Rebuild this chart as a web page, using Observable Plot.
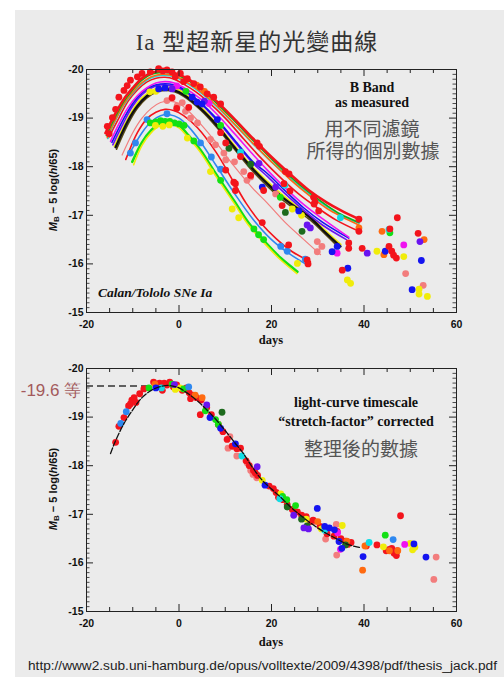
<!DOCTYPE html>
<html><head><meta charset="utf-8">
<script src="https://cdn.jsdelivr.net/npm/d3@7"></script>
<script src="https://cdn.jsdelivr.net/npm/@observablehq/plot@0.6"></script>
<style>
body{margin:0;background:#fff;width:504px;height:677px;overflow:hidden;position:relative;font-family:"Liberation Sans",Arial,sans-serif;}
#panel{position:absolute;left:15px;top:10px;width:489px;height:667px;background:#ebebeb;}
.abs{position:absolute;white-space:nowrap;line-height:1;}
.ctr{transform:translate(-50%,-50%);}
.serifb{font-family:"Liberation Serif","Times New Roman",serif;font-weight:bold;color:#111;}
.zh{font-family:"Liberation Sans","Noto Sans CJK TC",sans-serif;color:#555;font-size:19px;line-height:1;}
.ylab{font-family:"Liberation Sans",Arial,sans-serif;font-weight:bold;font-size:11px;color:#111;transform:translate(-50%,-50%) rotate(-90deg);}
.ylab sub{font-size:8px;vertical-align:-2px;line-height:0;}
</style></head><body>
<div id="panel"></div>
<div class="abs ctr" id="title" style="left:257px;top:41px;font-size:23px;color:#333;letter-spacing:1px;"><span style="font-family:'Liberation Serif',serif;">Ia </span><span style="font-family:'Noto Sans CJK TC',sans-serif;">型超新星的光變曲線</span></div>
<div id="topPlot" class="abs" style="left:0;top:0;"></div>
<div id="botPlot" class="abs" style="left:0;top:299px;"></div>

<div class="abs ctr serifb" style="left:372px;top:88px;font-size:14px;">B Band</div>
<div class="abs ctr serifb" style="left:372px;top:103px;font-size:14px;">as measured</div>
<div class="abs ctr zh" style="left:372px;top:129px;">用不同濾鏡</div>
<div class="abs ctr zh" style="left:373px;top:151px;">所得的個別數據</div>
<div class="abs serifb" style="left:98px;top:286px;font-size:13.5px;font-style:italic;">Calan/Tololo SNe Ia</div>

<div class="abs ctr serifb" style="left:356px;top:403px;font-size:14px;">light-curve timescale</div>
<div class="abs ctr serifb" style="left:356px;top:422px;font-size:14px;">“stretch-factor” corrected</div>
<div class="abs ctr zh" style="left:361px;top:449px;">整理後的數據</div>
<div class="abs ctr" style="left:51px;top:390px;font-size:17px;color:#a35a5c;">-19.6 等</div>

<div class="abs ylab" style="left:53px;top:190px;"><i>M</i><sub>B</sub> − 5 log(<i>h</i>/65)</div>
<div class="abs ylab" style="left:53px;top:489px;"><i>M</i><sub>B</sub> − 5 log(<i>h</i>/65)</div>
<div class="abs ctr serifb" style="left:271px;top:340px;font-size:12.5px;">days</div>
<div class="abs ctr serifb" style="left:271px;top:642px;font-size:12.5px;">days</div>

<svg class="abs" style="left:0;top:655px;" width="504" height="20"><text x="28" y="15" textLength="469" lengthAdjust="spacingAndGlyphs" font-family="Liberation Sans, Arial, sans-serif" font-size="12.5" fill="#222">http://www2.sub.uni-hamburg.de/opus/volltexte/2009/4398/pdf/thesis_jack.pdf</text></svg>

<script>
// ---------- axes ----------
const xDomain = [-20, 60];
const yDomain = [-20, -15];
const xMajor = [-20, 0, 20, 40, 60];
const xMinor = [-15, -10, -5, 5, 10, 15, 25, 30, 35, 45, 50, 55];
const yMajor = [-20, -19, -18, -17, -16, -15];
const yMinor = d3.range(-199, -150).map(v => v / 10).filter(v => !Number.isInteger(v));

// ---------- top panel: fitted light curves (day, magnitude) ----------
const curveRedTop = [[-15.9,-18.69],[-14,-19.05],[-12,-19.38],[-10,-19.62],[-8,-19.82],[-6,-19.93],[-4,-19.97],[-2,-19.95],[0,-19.9],[2,-19.8],[4.6,-19.63],[8,-19.36],[12,-18.98],[16,-18.58],[20,-18.2],[24,-17.85],[28,-17.52],[32,-17.26],[35,-17.1],[38.9,-16.92]];
const curveGreenTop = [[-15.7,-18.64],[-14,-18.98],[-12,-19.33],[-10,-19.58],[-8,-19.78],[-6,-19.9],[-4,-19.94],[-2,-19.93],[0,-19.87],[2,-19.77],[4.6,-19.6],[8,-19.32],[12,-18.94],[16,-18.54],[20,-18.16],[24,-17.8],[28,-17.48],[32,-17.2],[35,-17.02],[38.9,-16.85]];
const curveOrange = [[-15.5,-18.6],[-14,-18.92],[-12,-19.28],[-10,-19.53],[-8,-19.73],[-6,-19.85],[-4,-19.9],[-2,-19.89],[0,-19.83],[2,-19.72],[4.6,-19.55],[8,-19.27],[12,-18.88],[16,-18.48],[20,-18.1],[24,-17.74],[28,-17.42],[32,-17.14],[35,-16.98],[38.9,-16.8]];
const curveCyan = [[-15.4,-18.58],[-14,-18.9],[-12,-19.26],[-10,-19.51],[-8,-19.71],[-6,-19.83],[-4,-19.88],[-2,-19.87],[0,-19.81],[2,-19.7],[4.6,-19.53],[8,-19.25],[12,-18.87],[16,-18.47],[20,-18.1],[24,-17.76],[28,-17.45],[32,-17.18],[35,-17.0],[38.9,-16.84]];
const curveRedSecond = [[-15.2,-18.6],[-13,-19.0],[-11,-19.35],[-9,-19.58],[-7,-19.74],[-5,-19.82],[-3,-19.84],[-1,-19.8],[1,-19.7],[3.5,-19.55],[6,-19.36],[10,-19.0],[14,-18.57],[18,-18.15],[22,-17.77],[26,-17.43],[30,-17.15],[34,-16.9],[38.9,-16.67]];
const curveMagenta = [[-14.8,-18.52],[-13,-18.88],[-11,-19.22],[-9,-19.46],[-7,-19.62],[-5,-19.72],[-3,-19.75],[-1,-19.72],[1,-19.63],[4.6,-19.4],[8,-19.1],[12,-18.68],[16,-18.25],[19.1,-17.93],[23,-17.56],[27,-17.22],[31,-16.93],[36.7,-16.55]];
const curveBlue = [[-14.5,-18.5],[-12,-18.98],[-10,-19.3],[-8,-19.52],[-6,-19.65],[-4,-19.7],[-2,-19.7],[0,-19.65],[2,-19.52],[4.65,-19.32],[8,-19.0],[12,-18.55],[16,-18.1],[19.1,-17.86],[23,-17.5],[27,-17.15],[31,-16.86],[36.7,-16.53]];
const curvePurple = [[-14.3,-18.45],[-12,-18.9],[-10,-19.25],[-8,-19.48],[-6,-19.62],[-4,-19.68],[-2,-19.67],[0,-19.62],[2,-19.5],[4.65,-19.3],[8,-18.97],[12,-18.52],[16,-18.07],[19.1,-17.8],[23,-17.44],[27,-17.1],[31,-16.8],[36.2,-16.5]];
const curveYellowMid = [[-14,-18.42],[-12,-18.82],[-10,-19.17],[-8,-19.42],[-6,-19.56],[-4,-19.63],[-2,-19.63],[0,-19.58],[2,-19.46],[4.65,-19.24],[8,-18.9],[12,-18.44],[16,-17.99],[19.1,-17.7],[22,-17.45],[25,-17.22],[28.4,-16.98],[31.5,-16.7],[35,-16.4]];
const curveBlack = [[-13.7,-18.4],[-11,-18.95],[-9,-19.25],[-7,-19.45],[-5,-19.57],[-3,-19.6],[-1,-19.57],[1,-19.48],[4.65,-19.2],[8,-18.87],[12,-18.4],[16,-17.95],[19.1,-17.65],[22,-17.4],[25,-17.18],[28.4,-16.95],[31.5,-16.66],[34.9,-16.36]];
const curveOlive = [[-13.5,-18.36],[-11,-18.88],[-9,-19.2],[-7,-19.41],[-5,-19.53],[-3,-19.57],[-1,-19.54],[1,-19.45],[4.65,-19.17],[8,-18.83],[12,-18.36],[16,-17.9],[19.1,-17.6],[22,-17.35],[25,-17.13],[28.4,-16.9],[31.5,-16.62],[34.6,-16.33]];
const curvePink = [[-12.3,-18.24],[-10,-18.7],[-8,-19.0],[-6,-19.2],[-4,-19.32],[-2,-19.35],[0,-19.3],[2,-19.15],[4.65,-18.88],[8,-18.5],[12,-18.0],[16,-17.55],[19.1,-17.25],[23,-16.85],[27,-16.5],[30.6,-16.19]];
const curveRedLow = [[-11.5,-18.15],[-9,-18.7],[-7,-18.98],[-5,-19.12],[-3,-19.18],[-1,-19.15],[1,-19.05],[4,-18.8],[8,-18.3],[11.85,-17.68],[14.5,-17.25],[17.6,-16.85],[21,-16.52],[24.5,-16.25],[28.4,-16.05]];
const curveLightBlue = [[-10.9,-18.24],[-8,-18.7],[-6,-18.93],[-4,-19.05],[-2,-19.07],[0,-19.0],[2,-18.83],[4.6,-18.52],[8,-18.03],[12,-17.45],[16,-16.92],[20,-16.5],[24,-16.2],[27.7,-15.98]];
const curveYellowLow = [[-9.8,-18.04],[-8,-18.44],[-6,-18.7],[-4,-18.85],[-2,-18.88],[0,-18.8],[2,-18.6],[4.6,-18.3],[8,-17.8],[11.9,-17.25],[15,-16.8],[19.1,-16.36],[22,-16.08],[25.5,-15.8]];
const curveGreenLow = [[-10.1,-18.1],[-8,-18.5],[-6,-18.75],[-4,-18.9],[-2,-18.93],[0,-18.85],[2,-18.65],[4.6,-18.35],[8,-17.85],[11.9,-17.3],[15,-16.85],[19.1,-16.4],[22,-16.12],[25.6,-15.84]];

// ---------- top panel: measured points (day, magnitude) by supernova colour ----------
const topRed = [[-15.5,-18.83],[-15.1,-18.68],[-14.4,-19.01],[-13.7,-19.18],[-13.0,-19.43],[-11.9,-19.57],[-11.2,-19.67],[-10.5,-19.78],[-9.0,-19.85],[-8.0,-19.92],[-6.2,-19.95],[-4.4,-20.02],[-3.5,-19.97],[-2.6,-19.99],[-1.5,-19.95],[-0.8,-19.85],[0.3,-19.92],[1.0,-19.75],[1.8,-19.81],[3.2,-19.71],[4.6,-19.64],[6.1,-19.5],[7.5,-19.43],[9.0,-19.29],[16.9,-18.49],[17.4,-18.42],[23.0,-17.9],[23.8,-17.85],[29.1,-17.37],[29.4,-17.28],[38.9,-16.92],
  [-1.5,-19.42],[9.0,-18.7],[10.1,-18.49],[13.3,-18.21],[15.5,-17.82],[22.3,-17.2],[22.7,-17.65],[18.3,-17.51],[29.2,-17.23],[30.2,-17.09],[36.7,-16.43],[36.7,-16.32],[38.9,-16.67],[35.3,-15.87],[24.0,-17.5],[12.2,-17.65],
  [2.1,-19.22],[-0.5,-19.2],[10.1,-17.93],[11.85,-17.68],[12.2,-17.51],[18.0,-16.85],[23.7,-16.39],[27.7,-16.08],[27.9,-16.0],
  [39.6,-16.32],[47.2,-16.95],[45.6,-16.72],[45.4,-16.36],[46.0,-16.26],[47.0,-16.12],[46.4,-16.18],[51.7,-16.63]];
const topPink = [[-2.6,-19.36],[-0.4,-19.25],[0.7,-19.32],[1.4,-19.14],[2.5,-19.0],[4.0,-18.9],[6.8,-18.56],[7.9,-18.45],[9.7,-18.28],[10.1,-18.14],[12.0,-18.1],[14.0,-17.9],[14.7,-17.72],[15.5,-17.79],[20.9,-17.44],[29.9,-16.46],[30.9,-16.36],[29.9,-16.25],[49.0,-15.8],[52.8,-15.56]];
const topOrange = [[3.8,-19.68],[5.5,-19.55],[38.9,-16.74],[43.9,-16.67],[44.3,-16.19],[53.0,-16.5]];
const topBlue = [[-4.4,-19.6],[-3.0,-19.62],[2.85,-19.43],[3.9,-19.33],[5.0,-19.29],[8.3,-18.97],[18.0,-17.58],[25.9,-17.09],[33.1,-16.25],[34.2,-16.36],[36.5,-15.91],[44.6,-16.26],[52.4,-16.07],[50.4,-15.47]];
const topLightBlue = [[-10.5,-18.28],[-9.4,-18.49],[-6.9,-18.97],[-2.6,-19.09],[4.65,-18.49],[7.0,-18.2],[9.0,-17.95],[22.0,-16.36],[23.4,-16.26],[27.3,-16.1]];
const topPurple = [[-1.5,-19.6],[5.5,-19.35],[17.3,-18.07],[20.9,-17.58],[27.7,-16.8],[28.4,-16.74],[40.7,-16.22],[52.1,-16.46]];
const topMagenta = [[-0.5,-19.66],[6.5,-19.3],[34.2,-16.22],[48.6,-16.39]];
const topYellow = [[-6.3,-19.54],[-5.0,-19.55],[24.5,-17.13],[26.5,-17.0],[-5.1,-18.85],[-3.5,-18.83],[-2.1,-18.86],[1.8,-18.59],[6.8,-17.9],[11.5,-17.13],[12.9,-16.95],[25.6,-16.01],[42.8,-16.26],[48.6,-16.15],[36.4,-15.67],[37.1,-15.6],[51.9,-15.48],[51.9,-15.38],[53.7,-15.33]];
const topGreen = [[1.5,-19.55],[9.0,-18.85],[21.9,-17.37],[-6.2,-18.9],[-5.0,-18.92],[-4.0,-18.95],[-3.0,-18.93],[-2.0,-18.93],[-1.0,-18.9],[0.0,-18.88],[1.1,-18.85],[3.2,-18.53],[9.0,-17.72],[16.2,-16.72],[17.2,-16.6],[18.3,-16.5],[45.6,-16.64]];
const topDarkGreen = [[10.8,-18.38],[15.5,-18.05],[23.0,-17.06],[26.6,-16.67]];
const topCyan = [[13.3,-18.3],[22.9,-17.62],[34.9,-16.95],[45.4,-16.71]];

// ---------- bottom panel: stretch-corrected template and points ----------
const templateCurve = [[-14.8,-18.25],[-14,-18.45],[-12,-18.85],[-10,-19.15],[-8,-19.4],[-6,-19.55],[-4,-19.63],[-2,-19.65],[0,-19.6],[2,-19.48],[4,-19.33],[6,-19.15],[8,-18.95],[10,-18.72],[12,-18.48],[14,-18.24],[16,-17.95],[18,-17.7],[20,-17.52],[22,-17.35],[24,-17.16],[26,-17.0],[28,-16.85],[30,-16.72],[32,-16.6],[34,-16.5],[36,-16.4],[38,-16.34],[39,-16.32]];
const peakLevel = -19.64;
const peakLineDays = [-20, -6.8];

const botRed = [[-13.7,-18.48],[-13.0,-18.81],[-11.9,-18.99],[-10.9,-19.23],[-10.5,-19.27],[-10.2,-19.35],[-9.7,-19.4],[-9.3,-19.3],[-8.5,-19.48],[-7.6,-19.58],
  [-5.5,-19.72],[-4.8,-19.68],[-4.2,-19.7],[-3.6,-19.55],[-3.2,-19.7],[-2.6,-19.66],[-2.0,-19.72],[-1.2,-19.62],[-0.5,-19.66],[0.7,-19.55],[1.6,-19.6],[2.2,-19.5],
  [3.0,-19.45],[3.8,-19.4],[4.8,-19.35],[4.6,-19.05],[2.5,-19.38],[6.0,-19.2],[7.0,-19.05],[8.5,-18.85],[9.5,-18.7],[10.4,-18.54],[11.5,-18.4],[12.5,-18.35],[13.3,-18.36],[14.5,-18.1],[15.2,-18.0],[16.1,-17.9],[16.5,-17.85],[17.0,-17.8],[19.5,-17.58],[20.4,-17.53],[21.0,-17.45],[21.5,-17.35],[22.5,-17.3],[23.4,-17.2],[24.5,-17.1],[25.6,-17.05],[26.5,-16.98],[27.5,-16.95],[28.4,-16.85],[29.0,-16.88],[30.5,-16.75],[32.0,-16.6],[33.5,-16.55],[34.2,-16.65],[35.0,-16.5],[36.0,-16.45],[36.5,-16.38],[37.2,-16.42],
  [40.5,-16.35],[42.8,-16.37],[44.8,-16.25],[45.5,-16.28],[46.0,-16.3],[46.5,-16.2],[47.2,-16.25],[47.9,-16.97],[47.0,-16.15]];
const botPink = [[10.6,-18.36],[11.0,-18.6],[12.5,-18.2],[14.8,-18.05],[15.5,-17.9],[16.0,-17.82],[16.8,-17.75],[29.3,-16.85],[31.7,-16.49],[34.0,-16.79],[34.1,-16.16],[55.6,-16.12],[55.1,-15.66]];
const botBlue = [[-5.0,-19.6],[6.7,-18.99],[9.0,-18.77],[12.2,-18.45],[18.6,-17.6],[29.9,-17.12],[31.5,-16.75],[32.5,-16.72],[33.6,-16.68],[34.6,-16.44],[35.2,-16.3],[39.8,-16.13],[50.8,-16.39],[53.4,-16.12]];
const botLightBlue = [[-12.6,-18.87],[-11.4,-19.11],[2.1,-19.62],[46.3,-16.48]];
const botPurple = [[-1.0,-19.67],[6.0,-19.25],[16.9,-17.98],[24.8,-16.98],[27.0,-16.72],[28.0,-16.7]];
const botGreen = [[-6.5,-19.6],[-1.5,-19.68],[1.0,-19.58],[5.7,-19.13],[7.9,-18.95],[8.5,-18.85],[22.4,-17.37],[23.3,-17.3],[25.2,-17.18],[44.6,-16.57]];
const botDarkGreen = [[9.3,-19.1],[23.4,-17.15],[26.5,-16.9],[27.7,-16.76],[36.0,-16.37]];
const botCyan = [[-3.8,-19.6],[13.6,-18.2],[21.8,-17.32],[31.5,-16.67],[41.1,-16.42]];
const botYellow = [[-0.8,-19.57],[0.2,-19.6],[18.0,-17.7],[22.0,-17.42],[27.5,-16.9],[30.8,-16.7],[35.3,-16.77],[44.2,-16.33],[50.0,-16.4],[50.5,-16.27],[51.0,-16.32]];
const botOrange = [[-5.2,-19.68],[3.5,-19.45],[5.0,-19.4],[30.0,-16.85],[36.3,-16.45],[39.7,-15.85],[40.2,-16.35],[45.5,-16.25],[47.3,-16.25]];
const botMagenta = [[34.9,-16.28],[34.3,-16.62],[48.8,-16.38]];

// ---------- styles ----------
const C = {red:"#f3141c", pink:"#f27d7d", orange:"#ff6a10", yellow:"#f0ec0a", green:"#14e014", dgreen:"#1d6a1d", cyan:"#10dce4", blue:"#1414f0", lblue:"#2e88f0", purple:"#6a14f0", magenta:"#f014f0", black:"#111111", olive:"#5a4a14"};

const topCurves = [
  [curveGreenLow, C.green, 2.6], [curveYellowLow, C.yellow, 1.6], [curveLightBlue, C.lblue, 1.6], [curveRedLow, C.red, 1.6], [curvePink, C.pink, 1.2],
  [curveOlive, C.olive, 1.6], [curveYellowMid, C.yellow, 1.6], [curveBlack, C.black, 2.4], [curvePurple, C.purple, 1.6], [curveBlue, C.blue, 1.6], [curveMagenta, C.magenta, 1.6],
  [curveRedSecond, C.red, 1.6], [curveCyan, C.cyan, 1.6], [curveOrange, C.orange, 1.6], [curveGreenTop, "#12b012", 1.6], [curveRedTop, C.red, 2.6]
];
const topDotSets = [[topPink,C.pink],[topLightBlue,C.lblue],[topGreen,C.green],[topYellow,C.yellow],[topDarkGreen,C.dgreen],[topCyan,C.cyan],[topOrange,C.orange],[topMagenta,C.magenta],[topPurple,C.purple],[topBlue,C.blue],[topRed,C.red]];
const botDotSets = [[botPink,C.pink],[botRed,C.red],[botOrange,C.orange],[botYellow,C.yellow],[botGreen,C.green],[botDarkGreen,C.dgreen],[botCyan,C.cyan],[botLightBlue,C.lblue],[botMagenta,C.magenta],[botPurple,C.purple],[botBlue,C.blue]];

const W = 504, H = 352, mL = 86, mR = 48, mT = 69, mB = 40;
const fH = H - mT - mB, fW = W - mL - mR;

function axesMarks() {
  const st = {stroke: "#222", strokeWidth: 1};
  return [
    Plot.tickX(xMajor, {x: d => d, insetTop: fH - 7, ...st}),
    Plot.tickX(xMajor, {x: d => d, insetBottom: fH - 7, ...st}),
    Plot.tickX(xMinor, {x: d => d, insetTop: fH - 4, ...st}),
    Plot.tickX(xMinor, {x: d => d, insetBottom: fH - 4, ...st}),
    Plot.tickY(yMajor, {y: d => d, insetRight: fW - 7, ...st}),
    Plot.tickY(yMajor, {y: d => d, insetLeft: fW - 7, ...st}),
    Plot.tickY(yMinor, {y: d => d, insetRight: fW - 3.5, ...st, strokeWidth: 0.8}),
    Plot.tickY(yMinor, {y: d => d, insetLeft: fW - 3.5, ...st, strokeWidth: 0.8}),
    Plot.frame({stroke: "#222", strokeWidth: 1}),
    Plot.axisX({ticks: xMajor, tickSize: 0, tickPadding: 8, tickFormat: d => String(d), label: null, fill: "#111"}),
    Plot.axisY({ticks: yMajor, tickSize: 0, tickPadding: 3, tickFormat: d => String(d), label: null, fill: "#111"})
  ];
}
function basePlot(marks) {
  return Plot.plot({
    width: W, height: H, marginLeft: mL, marginRight: mR, marginTop: mT, marginBottom: mB,
    x: {domain: xDomain},
    y: {domain: yDomain, reverse: true},
    style: {background: "transparent", fontFamily: "'Liberation Sans', Arial, sans-serif", fontSize: "10.5px", fontWeight: "bold", overflow: "visible"},
    marks
  });
}
const dotOpts = (color) => ({x: d => d[0], y: d => d[1], fill: color, r: 3.4, stroke: "none"});

const topMarks = [
  ...topCurves.map(([pts, color, w]) => Plot.line(pts, {x: d => d[0], y: d => d[1], stroke: color, strokeWidth: w, curve: "catmull-rom"})),
  ...topDotSets.map(([pts, color]) => Plot.dot(pts, dotOpts(color))),
  ...axesMarks()
];
document.getElementById("topPlot").append(basePlot(topMarks));

const botMarks = [
  Plot.ruleY([peakLevel], {x1: peakLineDays[0], x2: peakLineDays[1], stroke: "#333", strokeWidth: 1.3, strokeDasharray: "7,4"}),
  ...botDotSets.map(([pts, color]) => Plot.dot(pts, dotOpts(color))),
  Plot.line(templateCurve, {x: d => d[0], y: d => d[1], stroke: "#111", strokeWidth: 1.3, strokeDasharray: "6,2", curve: "catmull-rom"}),
  ...axesMarks()
];
document.getElementById("botPlot").append(basePlot(botMarks));
</script>
</body></html>
